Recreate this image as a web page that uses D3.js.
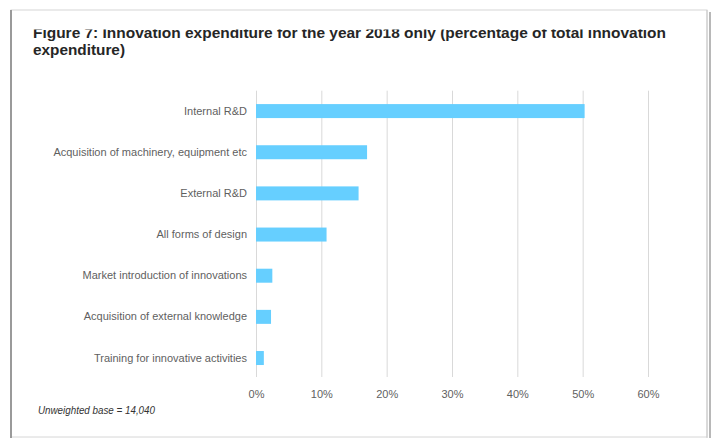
<!DOCTYPE html>
<html>
<head>
<meta charset="utf-8">
<script src="https://cdn.jsdelivr.net/npm/d3@7"></script>
<style>
  body { margin: 0; background: #fff; }
  svg { display: block; font-family: "Liberation Sans", Arial, sans-serif; }
</style>
</head>
<body>
<svg id="chart" width="713" height="438"></svg>
<script>
// data
var categories = [
  "Internal R&D",
  "Acquisition of machinery, equipment etc",
  "External R&D",
  "All forms of design",
  "Market introduction of innovations",
  "Acquisition of external knowledge",
  "Training for innovative activities"
];
var shares = [50.3, 17.0, 15.7, 10.8, 2.5, 2.3, 1.2];
var xTicks = [0, 10, 20, 30, 40, 50, 60];
var titleLines = [
  "Figure 7: Innovation expenditure for the year 2018 only (percentage of total innovation",
  "expenditure)"
];
var titleWidths = [633, 92];
var baseNote = "Unweighted base = 14,040";

var svg = d3.select("#chart");

// panel frame with a bit of shadow
svg.append("rect")
   .attr("x", 11).attr("y", 10)
   .attr("width", 696).attr("height", 427)
   .attr("fill", "#fff")
   .attr("stroke", "#d6d6d6");
svg.append("line")
   .attr("x1", 11).attr("x2", 11).attr("y1", 10).attr("y2", 438)
   .attr("stroke", "#9a9a9a").attr("stroke-width", 2);
svg.append("line")
   .attr("x1", 707).attr("x2", 707).attr("y1", 10).attr("y2", 438)
   .attr("stroke", "#c8c8c8");
svg.append("line")
   .attr("x1", 710).attr("x2", 710).attr("y1", 12).attr("y2", 438)
   .attr("stroke", "#a0a0a0").attr("stroke-width", 1.5);

// title (top of first line is cut off in the original)
svg.append("clipPath").attr("id", "titleClip")
   .append("rect").attr("x", 0).attr("y", 29.5).attr("width", 713).attr("height", 60);

svg.append("g")
   .attr("clip-path", "url(#titleClip)")
   .selectAll("text")
   .data(titleLines)
   .enter().append("text")
   .attr("x", 33)
   .attr("y", function(d, i) { return 37.5 + i * 17.5; })
   .attr("font-size", 15.5)
   .attr("font-weight", "bold")
   .attr("fill", "#262626")
   .attr("textLength", function(d, i) { return titleWidths[i]; })
   .attr("lengthAdjust", "spacingAndGlyphs")
   .text(function(d) { return d; });

var x = d3.scaleLinear().domain([0, 60]).range([256, 648]);
var y = d3.scaleBand().domain(categories).range([90.5, 378.6])
          .paddingInner(0.66).paddingOuter(0.33);

// gridlines + percent labels
var xAxis = svg.append("g")
   .attr("transform", "translate(0,377)")
   .call(d3.axisBottom(x)
           .tickValues(xTicks)
           .tickSize(-(377 - 90.7))
           .tickPadding(13)
           .tickFormat(function(d) { return d + "%"; }));
xAxis.select(".domain").remove();
xAxis.selectAll("line").attr("stroke", "#d9d9d9");
xAxis.selectAll("text")
     .attr("fill", "#5f5f5f")
     .attr("font-size", 11)
     .attr("font-family", "Liberation Sans, Arial, sans-serif");

// bars
svg.selectAll(".bar")
   .data(shares)
   .enter().append("rect")
   .attr("class", "bar")
   .attr("x", x(0))
   .attr("y", function(d, i) { return y(categories[i]); })
   .attr("width", function(d) { return x(d) - x(0); })
   .attr("height", y.bandwidth())
   .attr("fill", "#66cfff");

// category labels
var yAxis = svg.append("g")
   .attr("transform", "translate(256,0)")
   .call(d3.axisLeft(y).tickSize(0).tickPadding(9));
yAxis.select(".domain").remove();
yAxis.selectAll("text")
     .attr("fill", "#5f5f5f")
     .attr("font-size", 11)
     .attr("font-family", "Liberation Sans, Arial, sans-serif");

// base note
svg.append("text")
   .attr("x", 38)
   .attr("y", 414)
   .attr("font-size", 10)
   .attr("font-style", "italic")
   .attr("fill", "#333")
   .attr("textLength", 117)
   .attr("lengthAdjust", "spacingAndGlyphs")
   .text(baseNote);
</script>
</body>
</html>
